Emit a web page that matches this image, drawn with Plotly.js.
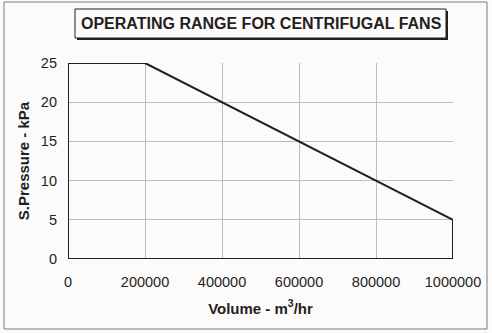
<!DOCTYPE html>
<html>
<head>
<meta charset="utf-8">
<script src="https://cdn.plot.ly/plotly-3.0.1.min.js"></script>
<style>html,body{margin:0;padding:0;background:#fdfafb;}#chart{width:492px;height:333px;}</style>
</head>
<body>
<div id="chart"></div>
<script>
const volume = [0, 0, 200000, 1000000, 1000000, 0];
const pressure = [0, 25, 25, 5, 0, 0];
const xTicks = [0, 200000, 400000, 600000, 800000, 1000000];
const xTickLabels = ["0", "200000", "400000", "600000", "800000", "1000000"];
const yTicks = [0, 5, 10, 15, 20, 25];
const chartTitle = "OPERATING RANGE FOR CENTRIFUGAL FANS";

const W = 492, H = 333;
const ML = 68, MR = 39, MT = 63, MB = 74;
const PW = W - ML - MR, PH = H - MT - MB;
// convert pixel position to plot-area "paper" coordinates
const px = v => (v - ML) / PW, py = v => (H - MB - v) / PH;

const trace = {
  x: volume, y: pressure, type: 'scatter', mode: 'lines',
  line: {color: '#231f20', width: 2}, hoverinfo: 'skip', cliponaxis: false
};

const layout = {
  width: W, height: H,
  margin: {l: ML, r: MR, t: MT, b: MB, pad: 0},
  paper_bgcolor: '#fdfafb', plot_bgcolor: '#fdfafb',
  showlegend: false,
  font: {family: 'Liberation Sans, Arial, sans-serif', color: '#231f20', size: 14.5},
  xaxis: {
    range: [0, 1000000], tickvals: xTicks, ticktext: xTickLabels,
    showgrid: true, gridcolor: '#bdbdbd', gridwidth: 1, zeroline: false, showline: false,
    ticks: '', ticklabelstandoff: 12, tickfont: {size: 14.5},
    title: {text: '<b>Volume - m<sup>3</sup>/hr</b>', font: {size: 15}, standoff: 14}
  },
  yaxis: {
    range: [0, 25], tickvals: yTicks,
    showgrid: true, gridcolor: '#bdbdbd', gridwidth: 1, zeroline: false, showline: false,
    ticks: '', ticklabelstandoff: 10, tickfont: {size: 14.5},
    title: {text: '<b>S.Pressure - kPa</b>', font: {size: 15}, standoff: 7}
  },
  shapes: [
    {type: 'rect', xref: 'paper', yref: 'paper', x0: px(4), x1: px(487), y0: py(329), y1: py(2),
     line: {color: '#7a7a7a', width: 1}, layer: 'below'},
    {type: 'rect', xref: 'paper', yref: 'paper', x0: px(77), x1: px(448), y0: py(40), y1: py(11),
     line: {width: 0}, fillcolor: '#231f20', layer: 'above'},
    {type: 'rect', xref: 'paper', yref: 'paper', x0: px(75), x1: px(446), y0: py(38), y1: py(9),
     line: {color: '#231f20', width: 1}, fillcolor: '#fdfafb', layer: 'above'}
  ],
  annotations: [
    {text: '<b>' + chartTitle + '</b>', xref: 'paper', yref: 'paper', x: px(261), y: py(23.5),
     xanchor: 'center', yanchor: 'middle', showarrow: false, font: {size: 16, color: '#231f20'}}
  ]
};

Plotly.newPlot('chart', [trace], layout, {displayModeBar: false, staticPlot: true});
</script>
</body>
</html>
